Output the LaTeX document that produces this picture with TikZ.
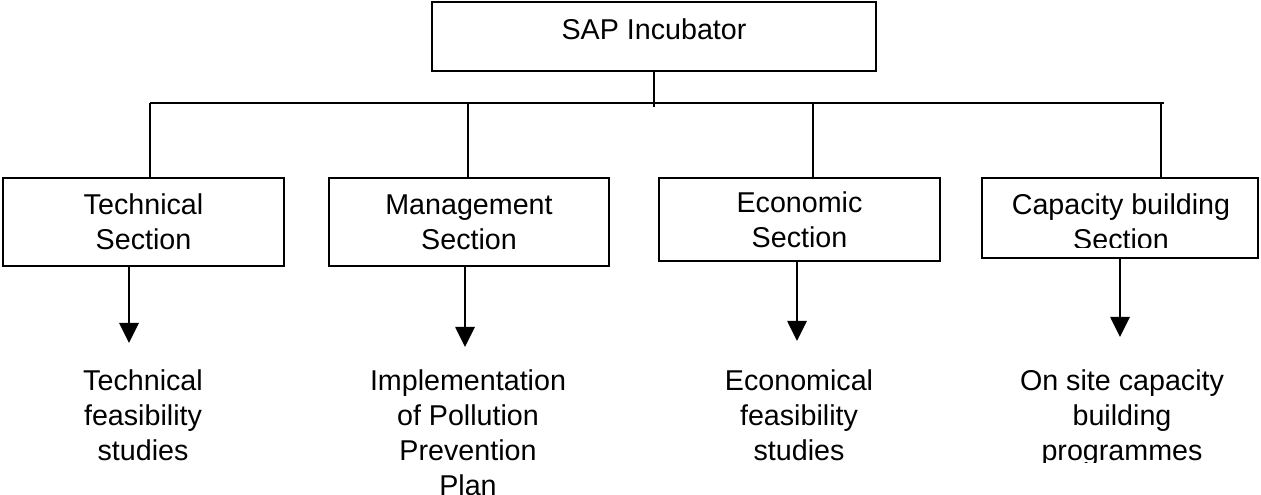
\documentclass[tikz,border=0pt]{standalone}
\usepackage{fontspec}
\setmainfont{Liberation Sans}
\usetikzlibrary{arrows.meta}
\begin{document}
\begin{tikzpicture}[x=0.75pt,y=-0.75pt,line width=1.2pt,
  box/.style={draw,rectangle,inner sep=0pt},
  txt/.style={font=\fontsize{21.5}{26.25}\selectfont,align=center,inner sep=0pt},
  arr/.style={-{Triangle[width=14.5pt,length=15pt]}}]
\useasboundingbox (0,0) rectangle (1261,495);
% top box
\node[box,txt,anchor=base,minimum width=333pt,text height=28.5pt,text depth=23.25pt] (top) at (654,40) {SAP Incubator};
% section boxes
\node[box,txt,minimum width=210.75pt,minimum height=66pt] (tech) at (143.5,222) {Technical\\Section};
\node[box,txt,minimum width=210pt,minimum height=66pt] (mgmt) at (469,222) {Management\\Section};
\node[box,txt,minimum width=210.75pt,minimum height=62.25pt] (econ) at (799.5,219.5) {Economic\\Section};
\node[box,minimum width=207pt,minimum height=60pt] (cap) at (1120,218) {};
\begin{scope}
  \clip (960,150) rectangle (1261,248);
  \node[txt] (captxt) at (1121,222) {Capacity building\\Section};
\end{scope}
% bus
\coordinate (b1) at (150,103);
\coordinate (b2) at (468,103);
\coordinate (b3) at (813,103);
\coordinate (b4) at (1161,103);
\coordinate (bR) at (1164,103);
\draw (top.south) -- ++(0,35);
\draw (b1) -- (bR);
\draw (b1) -- (b1 |- tech.north);
\draw (b2) -- (b2 |- mgmt.north);
\draw (b3) -- (b3 |- econ.north);
\draw (b4) -- (b4 |- cap.north);
% arrows
\coordinate (a1) at (129,343);
\coordinate (a2) at (465,347);
\coordinate (a3) at (797,341);
\coordinate (a4) at (1120,337);
\draw[arr] (tech.south -| a1) -- (a1);
\draw[arr] (mgmt.south -| a2) -- (a2);
\draw[arr] (econ.south -| a3) -- (a3);
\draw[arr] (cap.south -| a4) -- (a4);
% outcomes
\node[txt,anchor=north] (o1) at (143,369) {Technical\\feasibility\\studies};
\node[txt,anchor=north] (o2) at (468,369) {Implementation\\of Pollution\\Prevention\\Plan};
\node[txt,anchor=north] (o3) at (799,369) {Economical\\feasibility\\studies};
\begin{scope}
  \clip (960,300) rectangle (1261,462);
  \node[txt,anchor=north] (o4) at (1122,369) {On site capacity\\building\\programmes};
\end{scope}
\end{tikzpicture}
\end{document}
